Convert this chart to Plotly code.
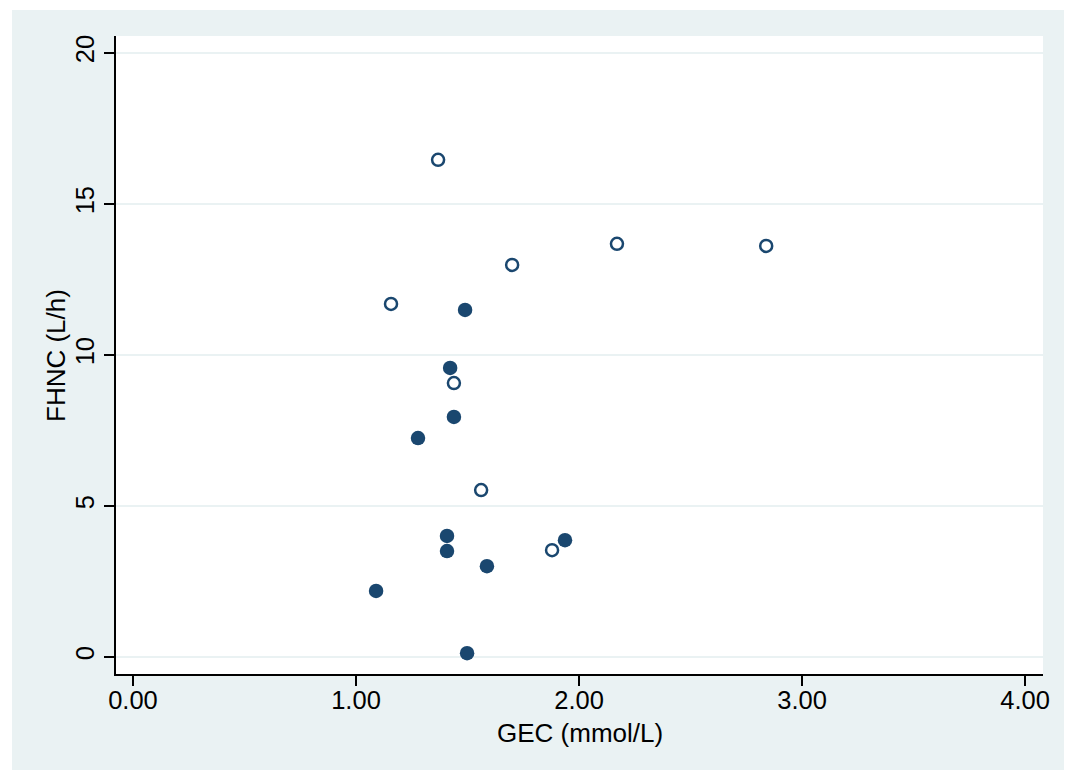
import plotly.graph_objects as go

# Hollow markers series
gec_open = [1.368, 1.157, 1.700, 2.170, 2.839, 1.439, 1.561, 1.879]
fhnc_open = [16.46, 11.69, 12.98, 13.68, 13.61, 9.07, 5.53, 3.54]

# Filled markers series
gec_filled = [1.489, 1.422, 1.439, 1.278, 1.408, 1.408, 1.937, 1.587, 1.090, 1.498]
fhnc_filled = [11.49, 9.57, 7.95, 7.25, 4.01, 3.51, 3.87, 3.01, 2.19, 0.13]

x_ticks = [0, 1, 2, 3, 4]
x_ticklabels = ["0.00", "1.00", "2.00", "3.00", "4.00"]
y_ticks = [0, 5, 10, 15, 20]
x_title = "GEC (mmol/L)"
y_title = "FHNC (L/h)"

navy = "#1a476f"
bg = "#eaf2f3"

fig = go.Figure()
fig.add_trace(go.Scatter(
    x=gec_filled, y=fhnc_filled, mode="markers",
    marker=dict(symbol="circle", size=14.5, color=navy, line=dict(width=0)),
    showlegend=False, hoverinfo="skip"))
fig.add_trace(go.Scatter(
    x=gec_open, y=fhnc_open, mode="markers",
    marker=dict(symbol="circle-open", size=12, color=navy, line=dict(width=2.5, color=navy)),
    showlegend=False, hoverinfo="skip"))

W, H = 1064, 762
ml, mr, mt, mb = 108, 29, 28, 96
pw, ph = W - ml - mr, H - mt - mb

fig.update_layout(
    width=W, height=H,
    margin=dict(l=ml, r=mr, t=mt, b=mb),
    paper_bgcolor="white", plot_bgcolor="white",
    font=dict(family="Liberation Sans, Arial, Helvetica, sans-serif", size=25.5, color="black"),
    shapes=[
        dict(type="rect", xref="paper", yref="paper",
             x0=(4 - ml) / pw, x1=(W + 10 - ml) / pw,
             y0=-(mb + 10) / ph, y1=(ph + mt - 2) / ph,
             fillcolor=bg, line=dict(width=0), layer="below"),
        dict(type="rect", xref="paper", yref="paper", x0=0, x1=1, y0=0, y1=1,
             fillcolor="white", line=dict(width=0), layer="below"),
    ],
    annotations=[
        dict(text=x_title, xref="paper", yref="paper", x=0.5, y=0,
             xanchor="center", yanchor="middle", yshift=-59, showarrow=False,
             font=dict(size=26)),
        dict(text=y_title, xref="paper", yref="paper", x=0, y=0.5,
             xanchor="center", yanchor="middle", xshift=-60, yshift=-1,
             textangle=-90, showarrow=False, font=dict(size=26)),
    ],
)
fig.update_xaxes(
    range=[-0.076, 4.08], tickvals=x_ticks, ticktext=x_ticklabels,
    showgrid=False, zeroline=False,
    showline=True, linecolor="black", linewidth=1.5,
    ticks="outside", ticklen=10, tickwidth=1.5, tickcolor="black",
    ticklabelstandoff=-7,
)
fig.update_yaxes(
    range=[-0.56, 20.56], tickvals=y_ticks,
    showgrid=True, gridcolor=bg, gridwidth=2, zeroline=False,
    showline=True, linecolor="black", linewidth=1.5,
    ticks="outside", ticklen=10, tickwidth=1.5, tickcolor="black",
    tickangle=-90,
)

fig.write_html("out.html")
